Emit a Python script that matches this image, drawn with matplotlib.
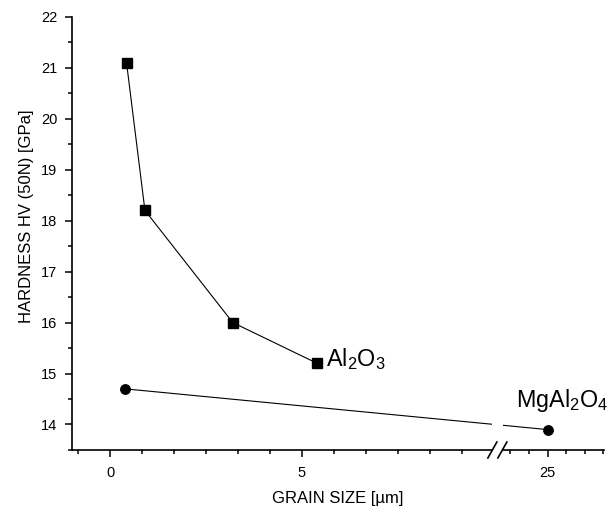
import numpy as np
import matplotlib
matplotlib.use('Agg')
import matplotlib.pyplot as plt
from matplotlib.patches import Rectangle
from matplotlib.lines import Line2D

plt.rcParams['font.family'] = ['Liberation Sans', 'DejaVu Sans']
plt.rcParams['mathtext.fontset'] = 'custom'
plt.rcParams['mathtext.rm'] = 'Liberation Sans'
plt.rcParams['mathtext.it'] = 'Liberation Sans:italic'
plt.rcParams['mathtext.bf'] = 'Liberation Sans:bold'

# ---- data ----
al_x = [0.43, 0.91, 3.2, 5.4]
al_y = [21.1, 18.2, 16.0, 15.2]
mg_x = [0.38, 25.0]
mg_y = [14.7, 13.9]
x_major = [0, 5, 25]
x_major_labels = ['0', '5', '25']
y_major = [14, 15, 16, 17, 18, 19, 20, 21, 22]
x_minor_left = [k * 5 / 6 for k in range(-1, 13) if k not in (0, 6)]
x_minor_right = [23, 24, 26, 27, 28]
y_minor = [13.5 + i for i in range(9)]

# ---- broken x scale ----
BREAK_LO, BREAK_HI, K = 10.1, 22.3, 0.485


def fwd(x):
    x = np.asarray(x, float)
    return np.where(x <= BREAK_LO, x,
                    np.where(x >= BREAK_HI, BREAK_LO + (x - BREAK_HI) * K, BREAK_LO))


def inv(u):
    u = np.asarray(u, float)
    return np.where(u <= BREAK_LO, u, BREAK_HI + (u - BREAK_LO) / K)


FW, FH = 6.1, 5.08
fig = plt.figure(figsize=(FW, FH), dpi=100)
pos = [0.1175, 0.1142, 0.8726, 0.853]
ax = fig.add_axes(pos)
ax.set_xscale('function', functions=(fwd, inv))
XMIN, XMAX = -1.0, 28.03
ax.set_xlim(XMIN, XMAX)
ax.set_ylim(13.5, 22)

ax.plot(al_x, al_y, '-', color='black', lw=0.8, marker='s', ms=6.5, zorder=3)
ax.plot(mg_x, mg_y, '-', color='black', lw=0.8, marker='o', ms=6.8, zorder=3)

ax.set_xticks(x_major)
ax.set_xticklabels(x_major_labels)
ax.set_xticks(x_minor_left + x_minor_right, minor=True)
ax.set_yticks(y_major)
ax.set_yticks(y_minor, minor=True)

for s in ('top', 'right'):
    ax.spines[s].set_visible(False)
for s in ('left', 'bottom'):
    ax.spines[s].set_linewidth(1.2)

ax.tick_params(which='major', direction='out', length=5.2, width=1.1, labelsize=10.5)
ax.tick_params(which='minor', direction='out', length=2.8, width=1.1)
ax.tick_params(axis='x', which='major', pad=6.2)
ax.tick_params(axis='y', which='major', pad=5)

ax.set_xlabel('GRAIN SIZE [µm]', fontsize=12)
ax.set_ylabel('HARDNESS HV (50N) [GPa]', fontsize=12)
ax.xaxis.set_label_coords(0.5, -0.0935)
ax.yaxis.set_label_coords(-0.0699, 0.54)

ax.text(5.62, 15.14, r'Al$_2$O$_3$', fontsize=16.8, ha='left', va='baseline')
ax.text(23.3, 14.34, r'MgAl$_2$O$_4$', fontsize=16.8, ha='left', va='baseline')

# ---- break marks ----
W_px = FW * 100 * pos[2]
H_px = FH * 100 * pos[3]
bf = float((fwd(BREAK_LO) - fwd(XMIN)) / (fwd(XMAX) - fwd(XMIN)))
hw = 5.5 / W_px
ax.add_patch(Rectangle((bf - hw, -0.04), 2 * hw, 0.2, transform=ax.transAxes,
                       facecolor='white', edgecolor='none', zorder=5, clip_on=False))
for off in (-5.0, 5.0):
    x0 = bf + (off - 4.5) / W_px
    x1 = bf + (off + 4.5) / W_px
    y0 = -8.0 / H_px
    y1 = 8.0 / H_px
    ax.add_line(Line2D([x0, x1], [y0, y1], transform=ax.transAxes, color='black',
                       lw=1.2, zorder=6, clip_on=False))

fig.savefig('out.png', dpi=100)
